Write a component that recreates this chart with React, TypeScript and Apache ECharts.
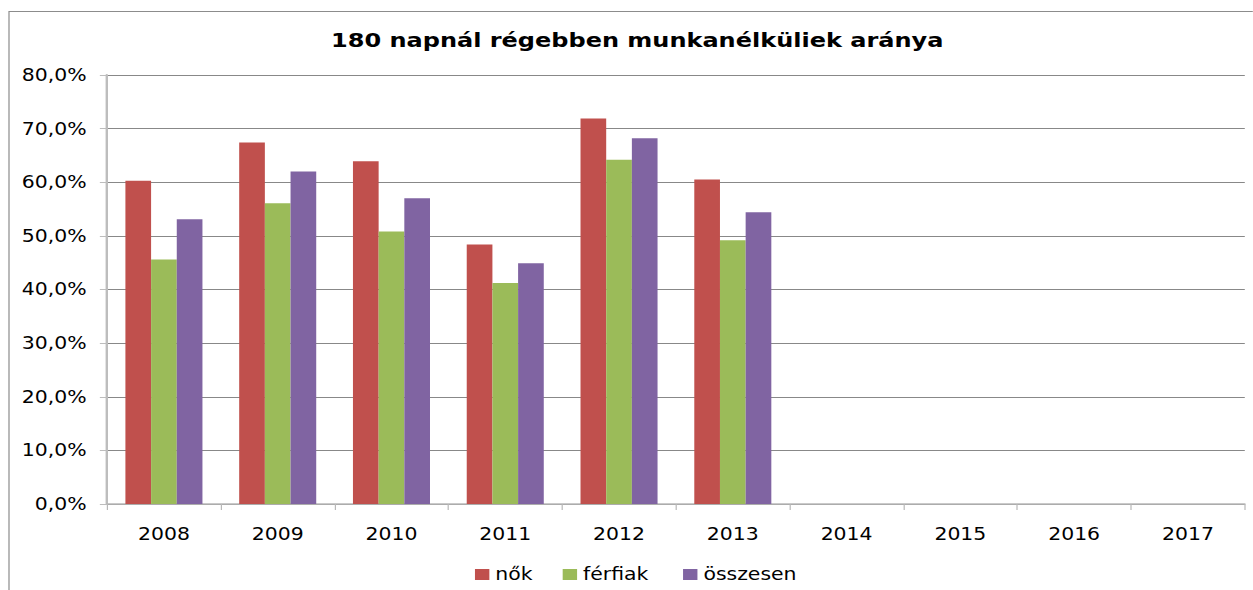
import React, { useEffect, useRef } from "react";
import * as echarts from "echarts";

const categories = ["2008", "2009", "2010", "2011", "2012", "2013", "2014", "2015", "2016", "2017"];
const nok = [60.3, 67.4, 63.9, 48.4, 71.9, 60.5, null, null, null, null];
const ferfiak = [45.6, 56.1, 50.8, 41.2, 64.2, 49.2, null, null, null, null];
const osszesen = [53.1, 62.0, 57.0, 44.9, 68.2, 54.4, null, null, null, null];
const seriesNames = ["nők", "férfiak", "összesen"];
const titleText = "180 napnál régebben munkanélküliek aránya";

const SX = 1.2;
const W = 1253 / SX;
const H = 590;
const FONT = "'DejaVu Sans', Verdana, sans-serif";

export default function App() {
  const ref = useRef<HTMLDivElement>(null);
  useEffect(() => {
    if (!ref.current) return;
    const chart = echarts.init(ref.current, undefined, { renderer: "svg" });
    const mkBar = (name: string, data: (number | null)[], color: string) => ({
      name,
      type: "bar",
      data,
      barWidth: 21.4,
      barGap: "0%",
      itemStyle: { color },
    });
    const legendLefts = [390.8, 463.9, 564.2];
    chart.setOption({
      animation: false,
      backgroundColor: "#ffffff",
      textStyle: { fontFamily: FONT },
      title: {
        text: titleText,
        left: 526,
        textAlign: "center",
        top: 25,
        textStyle: { fontFamily: FONT, fontSize: 20, fontWeight: "bold", color: "#000" },
      },
      graphic: [
        {
          type: "rect",
          shape: { x: 7.5, y: 11.5, width: 2000, height: 1000 },
          style: { fill: "none", stroke: "#8c8c8c", lineWidth: 1 },
          silent: true,
        },
      ],
      legend: seriesNames.map((n, i) => ({
        left: legendLefts[i],
        top: 561,
        icon: "rect",
        itemWidth: 12,
        itemHeight: 11,
        textStyle: { fontFamily: FONT, fontSize: 17, color: "#000" },
        data: [n],
      })),
      grid: { left: 89.2, right: W - 1037.5, top: 75, bottom: H - 504, containLabel: false },
      xAxis: {
        type: "category",
        data: categories,
        boundaryGap: true,
        axisLine: { lineStyle: { color: "#b8b8b8", width: 1.5 } },
        axisTick: { show: true, length: 6, lineStyle: { color: "#b8b8b8" } },
        axisLabel: { fontFamily: FONT, fontSize: 17, color: "#000", margin: 22 },
        splitLine: { show: false },
      },
      yAxis: {
        type: "value",
        min: 0,
        max: 80,
        interval: 10,
        axisLine: { show: true, lineStyle: { color: "#bdbdbd", width: 2 } },
        axisTick: { show: true, length: 6, lineStyle: { color: "#bdbdbd" } },
        axisLabel: {
          fontFamily: FONT,
          fontSize: 17,
          color: "#000",
          margin: 17,
          formatter: (v: number) => v.toFixed(1).replace(".", ",") + "%",
        },
        splitLine: { show: true, lineStyle: { color: "#888888", width: 1 } },
      },
      series: [
        mkBar(seriesNames[0], nok, "#C0504D"),
        mkBar(seriesNames[1], ferfiak, "#9BBB59"),
        mkBar(seriesNames[2], osszesen, "#8064A2"),
      ],
    });
    return () => chart.dispose();
  }, []);
  return (
    <div
      ref={ref}
      style={{
        position: "absolute",
        left: 0,
        top: 0,
        width: W,
        height: H,
        transform: `scaleX(${SX})`,
        transformOrigin: "0 0",
      }}
    />
  );
}
